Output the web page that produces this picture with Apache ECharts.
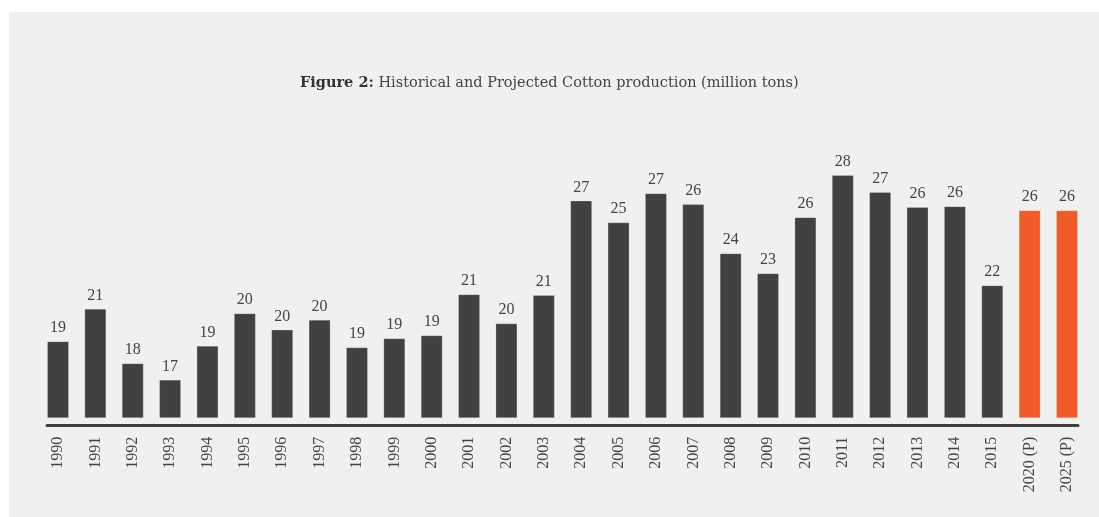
<!DOCTYPE html>
<html>
<head>
<meta charset="utf-8">
<script src="https://cdn.jsdelivr.net/npm/echarts@6/dist/echarts.min.js"></script>
<style>
  html, body { margin: 0; padding: 0; background: #ffffff; width: 1099px; height: 517px; overflow: hidden; }
  #chart { position: absolute; left: 9px; top: 12px; width: 1090px; height: 505px; }
</style>
</head>
<body>
<div id="chart"></div>
<script>
const categories = ['1990','1991','1992','1993','1994','1995','1996','1997','1998','1999',
  '2000','2001','2002','2003','2004','2005','2006','2007','2008','2009',
  '2010','2011','2012','2013','2014','2015','2020 (P)','2025 (P)'];
const production = [18.88, 20.66, 17.68, 16.78, 18.63, 20.41, 19.52, 20.06, 18.55, 19.04,
  19.21, 21.45, 19.86, 21.41, 26.57, 25.38, 26.97, 26.38, 23.69, 22.60,
  25.66, 27.97, 27.04, 26.22, 26.26, 21.94, 26.04, 26.04];

const FONT = 'Liberation Serif';
const TITLE_FONT = 'DejaVu Serif';
const DARK = '#414042';
const ORANGE = '#f15a29';

const chart = echarts.init(document.getElementById('chart'));
chart.setOption({
  backgroundColor: '#f0f0f0',
  animation: false,
  title: {
    text: '{b|Figure 2:} Historical and Projected Cotton production (million tons)',
    left: 286,
    top: 59,
    textStyle: {
      fontFamily: TITLE_FONT,
      fontSize: 14.5,
      fontWeight: 'normal',
      color: '#444',
      rich: {
        b: { fontFamily: TITLE_FONT, fontSize: 14.5, fontWeight: 'bold', color: '#333' }
      }
    }
  },
  grid: [
    { left: 30.3, right: 13.3, top: 153.2, bottom: 99.3 },
    { left: 38, right: 21, bottom: 91.5, height: 10 }
  ],
  xAxis: [
    {
      type: 'category',
      gridIndex: 0,
      data: categories,
      axisLine: { show: false },
      axisTick: { show: false },
      axisLabel: {
        rotate: 90,
        margin: 19,
        fontFamily: FONT,
        fontSize: 16,
        color: '#444'
      }
    },
    {
      type: 'category',
      gridIndex: 1,
      data: categories,
      axisLine: { show: true, lineStyle: { color: '#3f3f41', width: 3 } },
      axisTick: { show: false },
      axisLabel: { show: false }
    }
  ],
  yAxis: [
    { type: 'value', gridIndex: 0, min: 14.7, max: 28.5, show: false },
    { type: 'value', gridIndex: 1, show: false }
  ],
  series: [{
    type: 'bar',
    xAxisIndex: 0,
    yAxisIndex: 0,
    data: production,
    barWidth: 22,
    itemStyle: {
      color: p => p.name.indexOf('(P)') >= 0 ? ORANGE : DARK,
      borderColor: 'rgba(255,255,255,0.22)',
      borderWidth: 1
    },
    label: {
      show: true,
      position: 'top',
      distance: 5,
      fontFamily: FONT,
      fontSize: 16,
      color: '#444',
      formatter: p => Math.round(p.value)
    }
  }]
});
</script>
</body>
</html>
